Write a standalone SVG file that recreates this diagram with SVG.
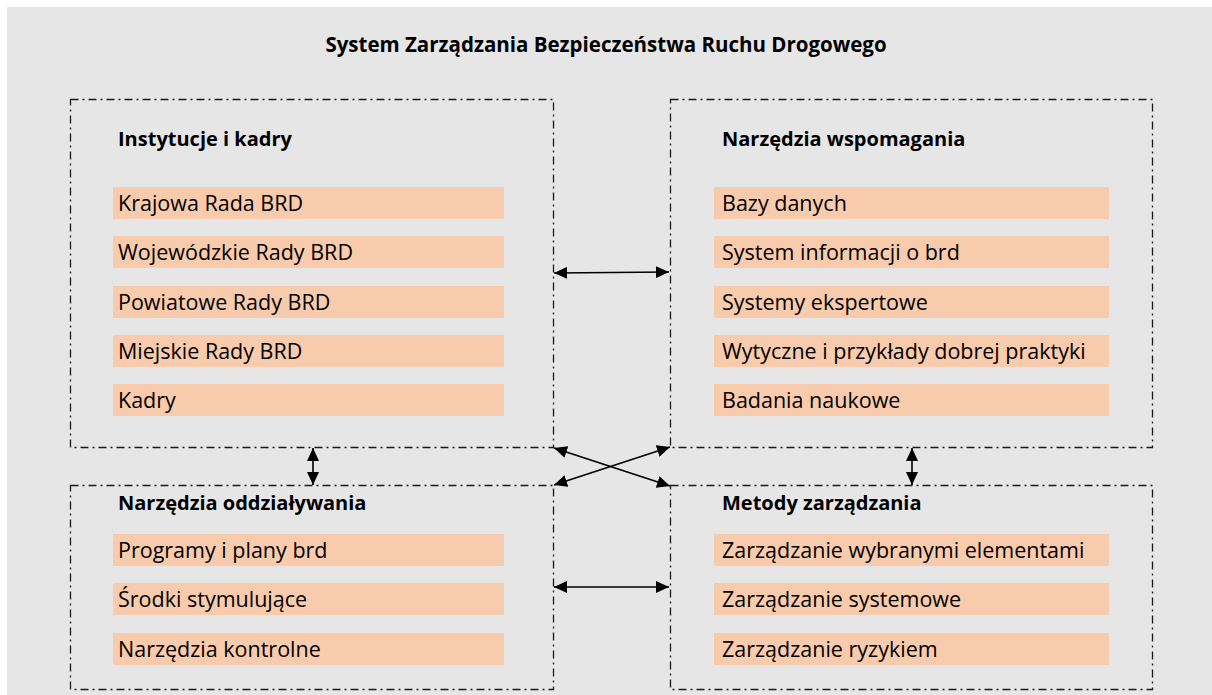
<svg xmlns="http://www.w3.org/2000/svg" width="1212" height="695" viewBox="0 0 1212 695">
<defs>
<style>
.bg{fill:#e6e6e6}
.frame{fill:none;stroke:#1a1a1a;stroke-width:1.3;stroke-dasharray:8 4 2 4}
.bar{fill:#f8cbad}
.t{font-family:"Open Sans","Liberation Sans",sans-serif;font-size:21.5px;fill:#000}
.h{font-family:"Open Sans","Liberation Sans",sans-serif;font-size:20px;font-weight:bold;fill:#000}
.title{font-family:"Open Sans","Liberation Sans",sans-serif;font-size:20.5px;font-weight:bold;fill:#000}
.arr{stroke:#000;stroke-width:1.6;fill:none;marker-start:url(#ah);marker-end:url(#ah)}
</style>
<marker id="ah" markerUnits="userSpaceOnUse" markerWidth="13" markerHeight="12" refX="13" refY="6" orient="auto-start-reverse">
<path d="M0,0 L13,6 L0,12 z" fill="#000"/>
</marker>
</defs>
<rect class="bg" x="7" y="7" width="1205" height="688"/>
<text class="title" x="606" y="52" text-anchor="middle">System Zarządzania Bezpieczeństwa Ruchu Drogowego</text>

<g id="instytucje">
<rect class="frame" x="70.5" y="99.5" width="483" height="348"/>
<text class="h" x="118" y="146">Instytucje i kadry</text>
<rect class="bar" x="113" y="187" width="391" height="32"/>
<text class="t" x="118" y="211">Krajowa Rada BRD</text>
<rect class="bar" x="113" y="236" width="391" height="32"/>
<text class="t" x="118" y="260">Wojewódzkie Rady BRD</text>
<rect class="bar" x="113" y="286" width="391" height="32"/>
<text class="t" x="118" y="310">Powiatowe Rady BRD</text>
<rect class="bar" x="113" y="335" width="391" height="32"/>
<text class="t" x="118" y="359">Miejskie Rady BRD</text>
<rect class="bar" x="113" y="384" width="391" height="32"/>
<text class="t" x="118" y="408">Kadry</text>
</g>

<g id="wspomagania">
<rect class="frame" x="670.5" y="99.5" width="482" height="348"/>
<text class="h" x="722" y="146">Narzędzia wspomagania</text>
<rect class="bar" x="714" y="187" width="395" height="32"/>
<text class="t" x="722" y="211">Bazy danych</text>
<rect class="bar" x="714" y="236" width="395" height="32"/>
<text class="t" x="722" y="260">System informacji o brd</text>
<rect class="bar" x="714" y="286" width="395" height="32"/>
<text class="t" x="722" y="310">Systemy ekspertowe</text>
<rect class="bar" x="714" y="335" width="395" height="32"/>
<text class="t" x="722" y="359">Wytyczne i przykłady dobrej praktyki</text>
<rect class="bar" x="714" y="384" width="395" height="32"/>
<text class="t" x="722" y="408">Badania naukowe</text>
</g>

<g id="oddzialywania">
<rect class="frame" x="70.5" y="485.5" width="483" height="204"/>
<text class="h" x="118" y="510">Narzędzia oddziaływania</text>
<rect class="bar" x="113" y="534" width="391" height="32"/>
<text class="t" x="118" y="558">Programy i plany brd</text>
<rect class="bar" x="113" y="583" width="391" height="32"/>
<text class="t" x="118" y="607">Środki stymulujące</text>
<rect class="bar" x="113" y="633" width="391" height="32"/>
<text class="t" x="118" y="657">Narzędzia kontrolne</text>
</g>

<g id="metody">
<rect class="frame" x="670.5" y="485.5" width="482" height="204"/>
<text class="h" x="722" y="510">Metody zarządzania</text>
<rect class="bar" x="714" y="534" width="395" height="32"/>
<text class="t" x="722" y="558">Zarządzanie wybranymi elementami</text>
<rect class="bar" x="714" y="583" width="395" height="32"/>
<text class="t" x="722" y="607">Zarządzanie systemowe</text>
<rect class="bar" x="714" y="633" width="395" height="32"/>
<text class="t" x="722" y="657">Zarządzanie ryzykiem</text>
</g>

<g id="connectors">
<line class="arr" x1="554" y1="273" x2="669" y2="272"/>
<line class="arr" x1="554" y1="587" x2="669" y2="587"/>
<line class="arr" x1="554" y1="448" x2="670" y2="486"/>
<line class="arr" x1="670" y1="447" x2="554" y2="485"/>
<line class="arr" x1="313" y1="448" x2="313" y2="485"/>
<line class="arr" x1="912" y1="448" x2="912" y2="485"/>
</g>
</svg>
